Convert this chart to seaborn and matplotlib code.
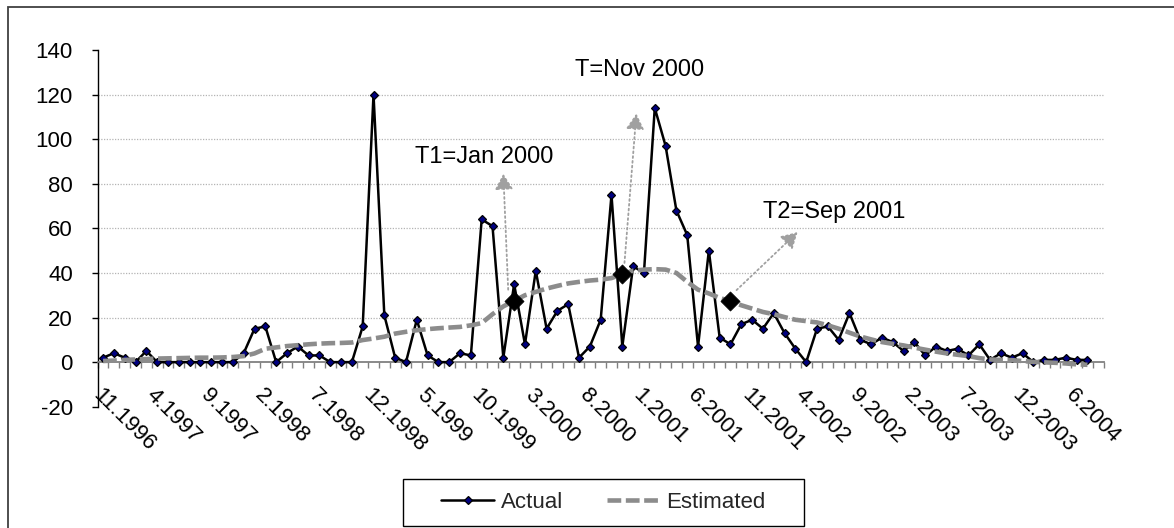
import numpy as np
import pandas as pd
import matplotlib
matplotlib.use("Agg")
import matplotlib.pyplot as plt
import seaborn as sns
from matplotlib.patches import Rectangle

# ---------------- data ----------------
tick_labels = ["11.1996", "4.1997", "9.1997", "2.1998", "7.1998", "12.1998",
               "5.1999", "10.1999", "3.2000", "8.2000", "1.2001", "6.2001",
               "11.2001", "4.2002", "9.2002", "2.2003", "7.2003", "12.2003",
               "6.2004"]

actual = [2, 4, 2, 0, 5, 0, 0, 0, 0, 0,
          0, 0, 0, 4, 15, 16, 0, 4, 7, 3,
          3, 0, 0, 0, 16, 120, 21, 2, 0, 19,
          3, 0, 0, 4, 3, 64, 61, 2, 35, 8,
          41, 15, 23, 26, 2, 7, 19, 75, 7, 43,
          40, 114, 97, 68, 57, 7, 50, 11, 8, 17,
          19, 15, 22, 13, 6, 0, 15, 16, 10, 22,
          10, 8, 11, 9, 5, 9, 3, 7, 5, 6,
          3, 8, 1, 4, 2, 4, 0, 1, 1, 2,
          1, 1]

estimated = [0.5, 0.7, 1.0, 1.2, 1.4, 1.6, 1.7, 1.8, 1.9, 2.0,
             2.0, 2.1, 2.3, 2.7, 3.9, 6.0, 6.6, 7.2, 7.6, 8.0,
             8.3, 8.5, 8.6, 8.8, 9.9, 10.6, 11.4, 12.8, 13.6, 14.3,
             14.8, 15.2, 15.5, 15.8, 16.5, 17.5, 21.5, 25.0, 27.5, 30.0,
             31.5, 33.0, 34.2, 35.3, 36.0, 36.6, 37.0, 37.7, 39.5, 41.0,
             41.5, 41.7, 41.5, 40.0, 36.0, 32.5, 30.8, 28.8, 27.3, 25.5,
             24.0, 22.5, 21.5, 20.2, 19.0, 18.4, 17.8, 16.5, 15.0, 13.2,
             11.5, 10.2, 9.0, 8.2, 7.5, 6.5, 5.6, 4.7, 3.9, 3.3,
             2.7, 1.8, 1.2, 1.0, 0.9, 0.5, 0.1, -0.1, -0.3, -0.6,
             -1.0, -1.2]

event_labels = ["T1=Jan 2000", "T=Nov 2000", "T2=Sep 2001"]
event_index = [38, 48, 58]

# ---------------- layout constants ----------------
n_slots = len(actual) + 1          # one empty category slot at the end
label_step = 5
arrow_tail_off = [(-0.55, 5), (0.2, 5), (0.56, 5)]
arrow_tip_off = [(-1.0, 57), (1.3, 72), (6.2, 31)]
text_pos = [(28.8, 92), (43.6, 131), (61.0, 67.2)]

sns.set_theme(style="white")
plt.rcParams['font.family'] = ['Liberation Sans', 'DejaVu Sans']
plt.rcParams['axes.unicode_minus'] = False

fig = plt.figure(figsize=(11.74, 5.28), dpi=100)
ax = fig.add_axes([0.0832, 0.2297, 0.8569, 0.6756])

# spines first (set_position resets the ticks)
for s in ["top", "right"]:
    ax.spines[s].set_visible(False)
ax.spines["left"].set_color("black")
ax.spines["left"].set_linewidth(1.0)
ax.spines["bottom"].set_position(("data", 0))
ax.spines["bottom"].set_color("#808080")
ax.spines["bottom"].set_linewidth(1.3)
ax.grid(False)
ax.set_facecolor("white")

df = pd.DataFrame({"idx": np.arange(len(actual)),
                   "Actual": actual, "Estimated": estimated})

# gridlines
grid_vals = [20, 40, 60, 80, 100, 120]
ax.hlines(grid_vals, -0.5, n_slots - 0.5, colors="#b4b4b4",
          linestyles=(0, (1, 1.2)), linewidth=0.9, zorder=0)

sns.lineplot(data=df, x="idx", y="Actual", ax=ax, color="black", lw=1.8,
             marker="D", markersize=4.2, markerfacecolor="#000080",
             markeredgecolor="black", markeredgewidth=0.9,
             label="Actual", zorder=3)
sns.lineplot(data=df, x="idx", y="Estimated", ax=ax, color="#8c8c8c", lw=3.3,
             linestyle=(0, (3, 1)), label="Estimated", zorder=4)

ev_y = [estimated[i] for i in event_index]
sns.scatterplot(x=event_index, y=ev_y, ax=ax, marker="D", s=95,
                color="black", edgecolor="black", linewidth=0.5,
                legend=False, zorder=6)

for i, (lab, xi, yi) in enumerate(zip(event_labels, event_index, ev_y)):
    tail = (xi + arrow_tail_off[i][0], yi + arrow_tail_off[i][1])
    tip = (xi + arrow_tip_off[i][0], yi + arrow_tip_off[i][1])
    ax.annotate("", xy=tip, xytext=tail,
                arrowprops=dict(arrowstyle="-|>,head_length=0.95,head_width=0.55",
                                mutation_scale=10, color="#a0a0a0",
                                lw=1.3, linestyle=":", shrinkA=0, shrinkB=0),
                zorder=7)
    ax.text(text_pos[i][0], text_pos[i][1], lab, ha="left", va="center",
            fontsize=17, color="black", zorder=8)

# axes
ax.set_xlim(-0.5, n_slots - 0.5)
ax.set_ylim(-20, 140)
ax.set_yticks(np.arange(-20, 141, 20))
ax.set_xlabel("")
ax.set_ylabel("")

major_pos = list(range(0, len(actual), label_step))[:len(tick_labels)]
ax.set_xticks(major_pos)
ax.set_xticklabels(tick_labels, rotation=-45, ha="left", va="top",
                   rotation_mode="anchor")
ax.set_xticks(np.arange(-0.5, n_slots, 1), minor=True)

ax.tick_params(axis="y", which="major", length=4.3, width=1, color="black",
               labelsize=16, pad=13.5, left=True, labelcolor="black")
ax.tick_params(axis="x", which="major", length=0, labelsize=16, pad=16,
               labelcolor="black")
ax.tick_params(axis="x", which="minor", length=4, width=1, color="#808080",
               direction="out", bottom=True)

# legend
handles, labels = ax.get_legend_handles_labels()
if ax.get_legend() is not None:
    ax.get_legend().remove()
leg = fig.legend(handles, labels, loc="center", bbox_to_anchor=(0.514, 0.049),
                 ncol=2, frameon=False, fontsize=16, handlelength=2.4,
                 handletextpad=0.3, columnspacing=1.95, borderpad=0.3)

# legend box with Excel-like wide horizontal padding
fig.canvas.draw()
bb = leg.get_window_extent()
W, H = fig.bbox.width, fig.bbox.height
pad_x, box_h = 31, 47
cy = (bb.y0 + bb.y1) / 2
fig.patches.append(Rectangle(((bb.x0 - pad_x) / W, (cy - box_h / 2) / H),
                             (bb.width + 2 * pad_x) / W, box_h / H,
                             transform=fig.transFigure, fill=True,
                             facecolor="none", edgecolor="black",
                             linewidth=1.0))

# outer chart border
fig.patches.append(Rectangle((8 / 1174, -10 / 528), 1.2, (528 - 6.5 + 10) / 528,
                             transform=fig.transFigure, fill=False,
                             edgecolor="#404040", linewidth=1.3))

fig.savefig("out.png", dpi=100)
